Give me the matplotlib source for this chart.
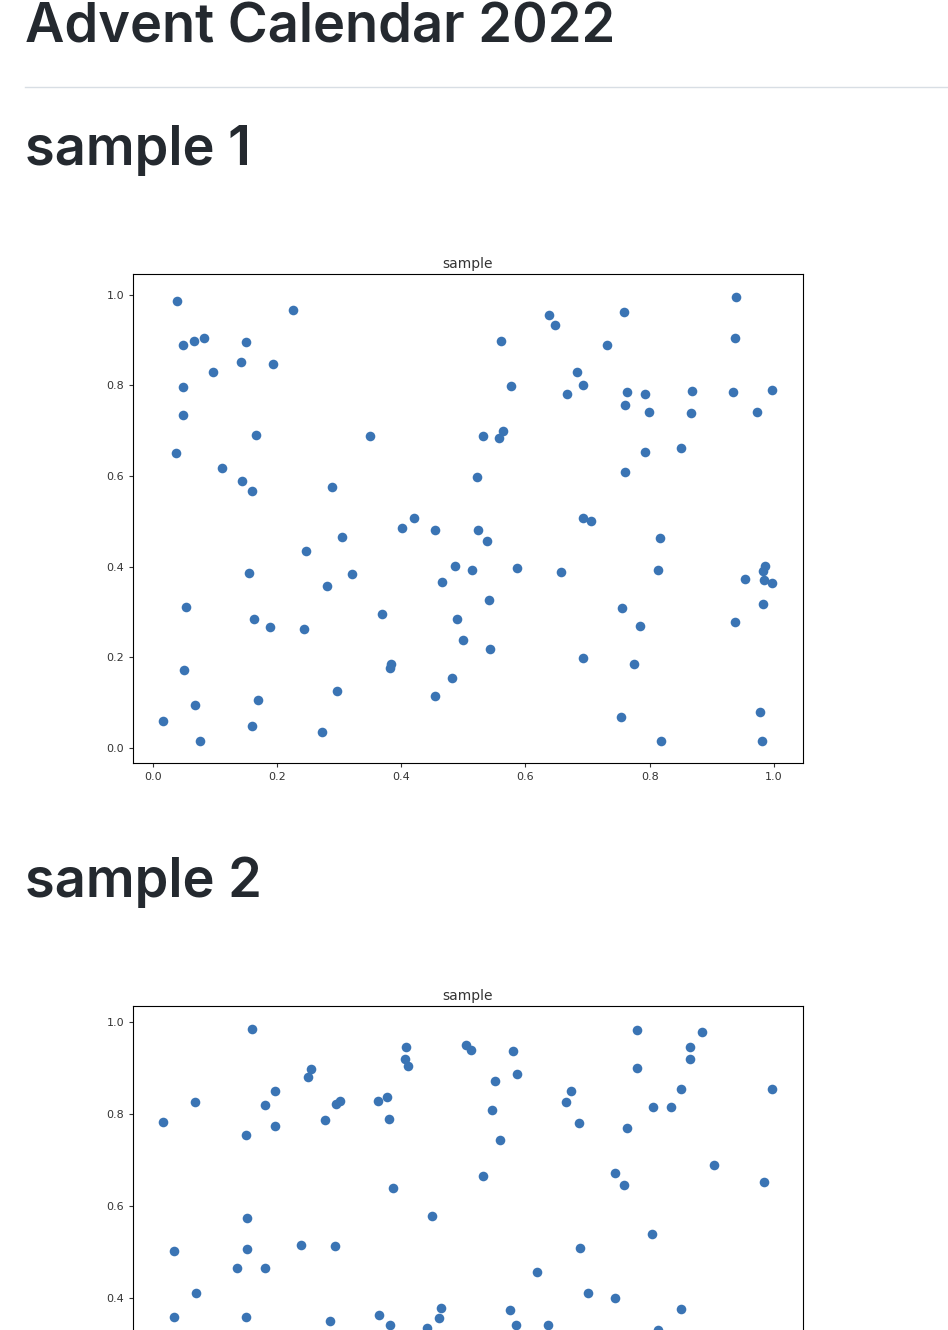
import matplotlib
matplotlib.use("Agg")
import matplotlib.pyplot as plt
from matplotlib.lines import Line2D

page_title = "Advent Calendar 2022"
section_titles = ["sample 1", "sample 2"]
chart_title = "sample"

s1_x = [0.039, 0.048, 0.066, 0.082, 0.048, 0.048, 0.037, 0.097, 0.111, 0.142, 0.150, 0.193,
        0.166, 0.143, 0.159, 0.225, 0.155, 0.053, 0.163, 0.188, 0.050, 0.068, 0.076, 0.016,
        0.169, 0.159, 0.246, 0.243, 0.288, 0.304, 0.320, 0.280, 0.296, 0.272, 0.349, 0.369,
        0.383, 0.382, 0.401, 0.420, 0.454, 0.465, 0.486, 0.514, 0.490, 0.499, 0.481, 0.454,
        0.522, 0.523, 0.538, 0.531, 0.560, 0.557, 0.564, 0.576, 0.541, 0.543, 0.586, 0.638,
        0.647, 0.667, 0.683, 0.692, 0.657, 0.692, 0.705, 0.692, 0.731, 0.758, 0.763, 0.760,
        0.760, 0.792, 0.799, 0.792, 0.816, 0.813, 0.755, 0.784, 0.775, 0.754, 0.818, 0.850,
        0.868, 0.866, 0.939, 0.937, 0.934, 0.973, 0.997, 0.953, 0.985, 0.982, 0.984, 0.997,
        0.982, 0.937, 0.977, 0.981]
s1_y = [0.987, 0.890, 0.898, 0.905, 0.797, 0.735, 0.651, 0.830, 0.618, 0.852, 0.896, 0.848,
        0.691, 0.589, 0.567, 0.967, 0.386, 0.311, 0.285, 0.267, 0.172, 0.095, 0.015, 0.060,
        0.106, 0.049, 0.435, 0.263, 0.576, 0.466, 0.384, 0.358, 0.126, 0.035, 0.689, 0.296,
        0.185, 0.177, 0.486, 0.508, 0.481, 0.366, 0.402, 0.393, 0.285, 0.238, 0.155, 0.115,
        0.598, 0.481, 0.457, 0.689, 0.898, 0.684, 0.700, 0.799, 0.327, 0.219, 0.397, 0.956,
        0.934, 0.781, 0.830, 0.801, 0.389, 0.508, 0.501, 0.199, 0.890, 0.962, 0.786, 0.757,
        0.609, 0.781, 0.742, 0.653, 0.464, 0.393, 0.309, 0.269, 0.185, 0.068, 0.015, 0.662,
        0.788, 0.740, 0.996, 0.905, 0.786, 0.742, 0.790, 0.373, 0.402, 0.391, 0.371, 0.364,
        0.318, 0.278, 0.079, 0.015]

s2_x = [0.016, 0.068, 0.159, 0.150, 0.180, 0.196, 0.196, 0.250, 0.254, 0.278, 0.295, 0.301,
        0.362, 0.377, 0.380, 0.408, 0.406, 0.411, 0.386, 0.449, 0.504, 0.512, 0.551, 0.546,
        0.559, 0.531, 0.580, 0.586, 0.665, 0.673, 0.687, 0.688, 0.618, 0.700, 0.745, 0.745,
        0.758, 0.763, 0.780, 0.780, 0.806, 0.834, 0.850, 0.865, 0.865, 0.884, 0.804, 0.903,
        0.984, 0.997, 0.034, 0.069, 0.034, 0.151, 0.151, 0.135, 0.180, 0.150, 0.238, 0.293,
        0.285, 0.364, 0.382, 0.441, 0.464, 0.461, 0.575, 0.585, 0.637, 0.850, 0.813]
s2_y = [0.783, 0.826, 0.985, 0.754, 0.820, 0.850, 0.774, 0.880, 0.898, 0.787, 0.822, 0.828,
        0.828, 0.837, 0.789, 0.946, 0.920, 0.904, 0.639, 0.578, 0.950, 0.939, 0.872, 0.809,
        0.743, 0.665, 0.937, 0.887, 0.826, 0.850, 0.780, 0.509, 0.457, 0.411, 0.400, 0.672,
        0.646, 0.770, 0.983, 0.900, 0.815, 0.815, 0.854, 0.946, 0.920, 0.978, 0.539, 0.689,
        0.652, 0.854, 0.502, 0.411, 0.359, 0.574, 0.507, 0.465, 0.465, 0.359, 0.515, 0.513,
        0.350, 0.363, 0.341, 0.335, 0.378, 0.357, 0.374, 0.341, 0.341, 0.376, 0.330]

W, H = 948, 1330
fig = plt.figure(figsize=(W / 100, H / 100), dpi=100)
heading_font = ["Inter", "DejaVu Sans"]
text_color = "#24292f"

fig.text(25 / W, 1 - 28 / H, page_title, fontsize=39, family=heading_font,
         weight="semibold", color=text_color, va="center", ha="left")
fig.add_artist(Line2D([25 / W, 1], [1 - 87 / H] * 2, color="#d8dee4", linewidth=1))
for label, y_px in zip(section_titles, [151, 882]):
    fig.text(25 / W, 1 - y_px / H, label, fontsize=39, family=heading_font,
             weight="semibold", color=text_color, va="center", ha="left")


def scatter_panel(top_px, xs, ys, ylim, yticks, show_x=True):
    ax = fig.add_axes([133 / W, 1 - (top_px + 489) / H, 670 / W, 489 / H])
    ax.scatter(xs, ys, s=48, color="#3a74b4", linewidths=0)
    ax.set_xlim(-0.032, 1.047)
    ax.set_ylim(*ylim)
    ticks = [0, 0.2, 0.4, 0.6, 0.8, 1.0]
    ax.set_xticks(ticks)
    ax.set_xticklabels([f"{t:.1f}" for t in ticks] if show_x else [])
    ax.set_yticks(yticks)
    ax.set_yticklabels([f"{t:.1f}" for t in yticks])
    ax.tick_params(labelsize=8, colors="#333333", length=3)
    ax.set_title(chart_title, fontsize=10, color="#333333", pad=4)
    for sp in ax.spines.values():
        sp.set_linewidth(0.8)
    return ax


scatter_panel(274, s1_x, s1_y, (-0.033, 1.046), [0, 0.2, 0.4, 0.6, 0.8, 1.0])
scatter_panel(1006, s2_x, s2_y, (-0.028, 1.035), [0.4, 0.6, 0.8, 1.0], show_x=False)

fig.savefig("out.png", dpi=100)
